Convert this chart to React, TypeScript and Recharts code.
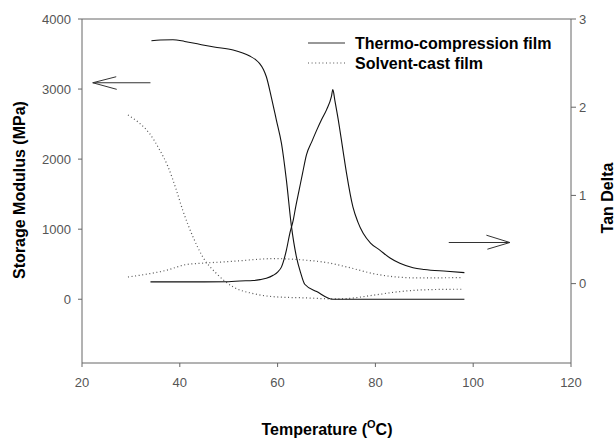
import React from "react"
import { LineChart, Line, XAxis, YAxis, ReferenceLine, Label } from "recharts"

// temperature (°C) / value pairs
const thermoModulusT = [34.2, 36, 38.6, 41, 44, 47, 50.9, 54.3, 55.5, 56.3, 57.1, 57.7, 58.7, 59.75, 60.8, 61.8, 62.8, 63.85, 64.7, 65.55, 68, 71.3, 75, 85, 98.2]
const thermoModulus = [3690, 3700, 3704, 3680, 3640, 3600, 3557, 3471, 3420, 3367, 3280, 3176, 2890, 2557, 2220, 1700, 1057, 604, 380, 214, 110, 0, 0, 0, 0]

const thermoTanT = [34.0, 45, 50, 52.3, 55, 56.4, 57.7, 59.1, 60, 60.8, 61.8, 62.5, 63.2, 63.7, 64.4, 65.1, 65.9, 67, 68, 69, 70, 71, 71.3, 71.7, 72.4, 73.4, 74.1, 75.4, 76.4, 77.5, 79, 80.9, 83, 85, 87.7, 90, 94.6, 98.2]
const thermoTan = [0.02, 0.02, 0.022, 0.03, 0.035, 0.045, 0.06, 0.094, 0.13, 0.19, 0.38, 0.57, 0.72, 0.87, 1.06, 1.25, 1.46, 1.61, 1.74, 1.86, 1.97, 2.12, 2.2, 2.08, 1.86, 1.5, 1.25, 0.87, 0.7, 0.57, 0.46, 0.38, 0.29, 0.23, 0.18, 0.16, 0.14, 0.125]

const solventModulusT = [29.4, 30.5, 31.8, 33.8, 35.9, 37.6, 39.3, 40.6, 42.7, 44.7, 47.5, 50.9, 55, 59.8, 65.9, 71.3, 74.1, 79.5, 84.3, 88.4, 93, 97.8]
const solventModulus = [2629, 2580, 2510, 2367, 2129, 1890, 1557, 1271, 890, 604, 367, 176, 81, 33, 19, 5, 10, 57, 104, 129, 140, 143]

const solventTanT = [29.4, 33.1, 37.2, 41.3, 45.4, 50.9, 56, 59.1, 62.5, 65.9, 69.3, 74.1, 79.5, 84.3, 89.1, 93.5, 97.8]
const solventTan = [0.075, 0.106, 0.15, 0.216, 0.234, 0.253, 0.275, 0.284, 0.278, 0.265, 0.245, 0.19, 0.114, 0.075, 0.064, 0.066, 0.068]

const xTicks = [20, 40, 60, 80, 100, 120]
const modulusTicks = [0, 1000, 2000, 3000, 4000]
const tanTicks = [0, 1, 2, 3]

const legendNames = ["Thermo-compression film", "Solvent-cast film"]

// arrows pointing at each curve's axis: [x1, y1, x2, y2]
const leftArrow = [
  [22.2, 3090, 34.0, 3090],
  [22.2, 3090, 27.0, 3176],
  [22.2, 3090, 27.1, 2996],
]
const rightArrow = [
  [95.0, 0.466, 107.5, 0.466],
  [107.5, 0.466, 102.7, 0.549],
  [107.5, 0.466, 102.9, 0.39],
]

const toPoints = (xs: number[], ys: number[]) => xs.map((t, i) => ({ t, v: ys[i] }))

const FONT = "'Liberation Sans', Arial, sans-serif"
const AXIS = "#666"
const tickStyle = { fill: "#555", fontSize: 13, fontFamily: FONT }
const DOTS = "1 2.6"

const titleStyle = { fontFamily: FONT, fontSize: 16, fontWeight: 700, fill: "#000" }

export default function App() {
  return (
    <div style={{ position: "absolute", left: 0, top: 0, width: 615, height: 438, background: "#fff" }}>
      <LineChart width={615} height={438} margin={{ top: 19, right: 0, bottom: 0, left: 0 }}>
        <XAxis
          type="number"
          dataKey="t"
          domain={[20, 120]}
          ticks={xTicks}
          allowDataOverflow
          height={75}
          tickSize={4}
          tickMargin={11}
          stroke={AXIS}
          tick={tickStyle}
          label={
            <Label
              content={() => (
                <text x={327} y={435} textAnchor="middle" style={titleStyle}>
                  Temperature (<tspan fontSize={11} dy={-7}>O</tspan>
                  <tspan dy={7}>C)</tspan>
                </text>
              )}
            />
          }
        />
        <YAxis
          yAxisId="left"
          domain={[-910, 4000]}
          ticks={modulusTicks}
          allowDataOverflow
          width={82}
          tickSize={4}
          tickMargin={7}
          stroke={AXIS}
          tick={tickStyle}
          label={
            <Label
              content={() => (
                <text x={25} y={190} transform="rotate(-90 25 190)" textAnchor="middle" style={titleStyle}>
                  Storage Modulus (MPa)
                </text>
              )}
            />
          }
        />
        <YAxis
          yAxisId="right"
          orientation="right"
          domain={[-0.9, 3]}
          ticks={tanTicks}
          allowDataOverflow
          width={44}
          tickSize={5}
          tickMargin={3}
          stroke={AXIS}
          tick={tickStyle}
          label={
            <Label
              content={() => (
                <text x={613} y={198} transform="rotate(-90 613 198)" textAnchor="middle" style={titleStyle}>
                  Tan Delta
                </text>
              )}
            />
          }
        />
        <ReferenceLine yAxisId="left" y={4000} stroke={AXIS} />

        {leftArrow.map(([x1, y1, x2, y2], i) => (
          <ReferenceLine key={"la" + i} yAxisId="left" segment={[{ x: x1, y: y1 }, { x: x2, y: y2 }]} stroke="#333" />
        ))}
        {rightArrow.map(([x1, y1, x2, y2], i) => (
          <ReferenceLine key={"ra" + i} yAxisId="right" segment={[{ x: x1, y: y1 }, { x: x2, y: y2 }]} stroke="#333" />
        ))}

        <Line yAxisId="left" data={toPoints(solventModulusT, solventModulus)} dataKey="v" type="monotone"
          stroke="#555" strokeWidth={1.2} strokeDasharray={DOTS} dot={false} isAnimationActive={false} />
        <Line yAxisId="right" data={toPoints(solventTanT, solventTan)} dataKey="v" type="monotone"
          stroke="#555" strokeWidth={1.2} strokeDasharray={DOTS} dot={false} isAnimationActive={false} />
        <Line yAxisId="left" data={toPoints(thermoModulusT, thermoModulus)} dataKey="v" type="monotone"
          stroke="#111" strokeWidth={1.1} dot={false} isAnimationActive={false} />
        <Line yAxisId="right" data={toPoints(thermoTanT, thermoTan)} dataKey="v" type="monotone"
          stroke="#111" strokeWidth={1.1} dot={false} isAnimationActive={false} />
      </LineChart>

      {/* legend drawn over the plot, top right */}
      <svg width={615} height={438} style={{ position: "absolute", left: 0, top: 0, pointerEvents: "none" }}>
        <line x1={308} y1={43} x2={345} y2={43} stroke="#333" strokeWidth={1.2} />
        <text x={355} y={48.5} style={titleStyle}>{legendNames[0]}</text>
        <line x1={308} y1={63} x2={345} y2={63} stroke="#555" strokeWidth={1.2} strokeDasharray={DOTS} />
        <text x={355} y={68.5} style={titleStyle}>{legendNames[1]}</text>
      </svg>
    </div>
  )
}
